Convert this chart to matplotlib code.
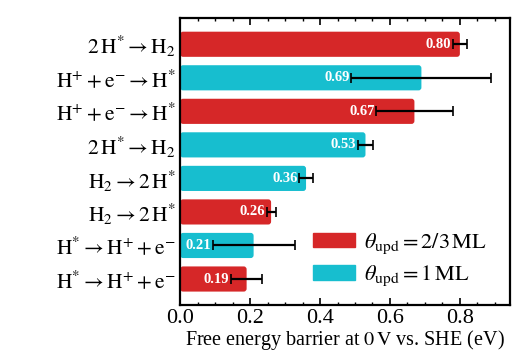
import matplotlib
matplotlib.use("Agg")
import matplotlib.pyplot as plt
from matplotlib.patches import FancyBboxPatch, Patch

plt.rcParams['font.family'] = 'serif'
plt.rcParams['font.serif'] = ['Liberation Serif', 'DejaVu Serif']
plt.rcParams['mathtext.fontset'] = 'stix'

# data, top to bottom
labels = [r"$2\,\mathrm{H}^{*} \rightarrow \mathrm{H}_2$",
          r"$\mathrm{H}^{+} + \mathrm{e}^{-} \rightarrow \mathrm{H}^{*}$",
          r"$\mathrm{H}^{+} + \mathrm{e}^{-} \rightarrow \mathrm{H}^{*}$",
          r"$2\,\mathrm{H}^{*} \rightarrow \mathrm{H}_2$",
          r"$\mathrm{H}_2 \rightarrow 2\,\mathrm{H}^{*}$",
          r"$\mathrm{H}_2 \rightarrow 2\,\mathrm{H}^{*}$",
          r"$\mathrm{H}^{*} \rightarrow \mathrm{H}^{+} + \mathrm{e}^{-}$",
          r"$\mathrm{H}^{*} \rightarrow \mathrm{H}^{+} + \mathrm{e}^{-}$"]
barriers = [0.80, 0.69, 0.67, 0.53, 0.36, 0.26, 0.21, 0.19]
errors = [0.02, 0.20, 0.11, 0.022, 0.02, 0.013, 0.117, 0.045]
coverage = ['2/3', '1', '2/3', '1', '1', '2/3', '1', '2/3']

colors = {'2/3': '#d62728', '1': '#17becf'}

fig, ax = plt.subplots(figsize=(5.3, 3.62), dpi=100)
fig.subplots_adjust(left=0.34, right=0.962, top=0.95, bottom=0.157)

n = len(barriers)
ypos = list(range(n - 1, -1, -1))
bars = ax.barh(ypos, barriers, height=0.75, color=[colors[c] for c in coverage])

# swap plain bars for rounded ones
for b in bars:
    x0, y0 = b.get_x(), b.get_y()
    w, h = b.get_width(), b.get_height()
    rb = FancyBboxPatch((x0, y0), w, h, boxstyle="round,pad=0,rounding_size=0.008",
                        mutation_aspect=11, facecolor=b.get_facecolor(),
                        edgecolor='none', zorder=2)
    b.remove()
    ax.add_patch(rb)

ax.errorbar(barriers, ypos, xerr=errors, fmt='none', ecolor='black',
            elinewidth=1.6, capsize=3.5, capthick=1.2, zorder=3)

for y, v, e in zip(ypos, barriers, errors):
    ax.text(v - e - 0.004, y, f"{v:.2f}", color='white', fontweight='bold',
            fontsize=10.5, ha='right', va='center', zorder=4)

ax.set_yticks(ypos)
ax.set_yticklabels(labels, fontsize=15.5)
ax.set_ylim(-0.78, n - 0.22)
ax.set_xlim(0, 0.943)
ax.set_xticks([0.0, 0.2, 0.4, 0.6, 0.8])
ax.set_xticks([i * 0.05 for i in range(19)], minor=True)
ax.tick_params(axis='x', which='both', direction='in', top=True, labelsize=16)
ax.tick_params(axis='x', which='major', length=5, width=1.2, pad=3)
ax.tick_params(axis='x', which='minor', length=2.5, width=1)
ax.tick_params(axis='y', length=0, pad=3)
for s in ax.spines.values():
    s.set_linewidth(1.6)

ax.set_xlabel(r"Free energy barrier at $0\,\mathrm{V}$ vs. SHE (eV)", fontsize=14.5, labelpad=0)

handles = [Patch(color=colors['2/3'], label=r"$\theta_{\mathrm{upd}} = 2/3\,\mathrm{ML}$"),
           Patch(color=colors['1'], label=r"$\theta_{\mathrm{upd}} = 1\,\mathrm{ML}$")]
ax.legend(handles=handles, loc='lower right', frameon=False, fontsize=16,
          handlelength=1.9, handleheight=0.65, handletextpad=0.4,
          labelspacing=0.35, bbox_to_anchor=(0.99, -0.01))

fig.savefig("out.png", dpi=100)
